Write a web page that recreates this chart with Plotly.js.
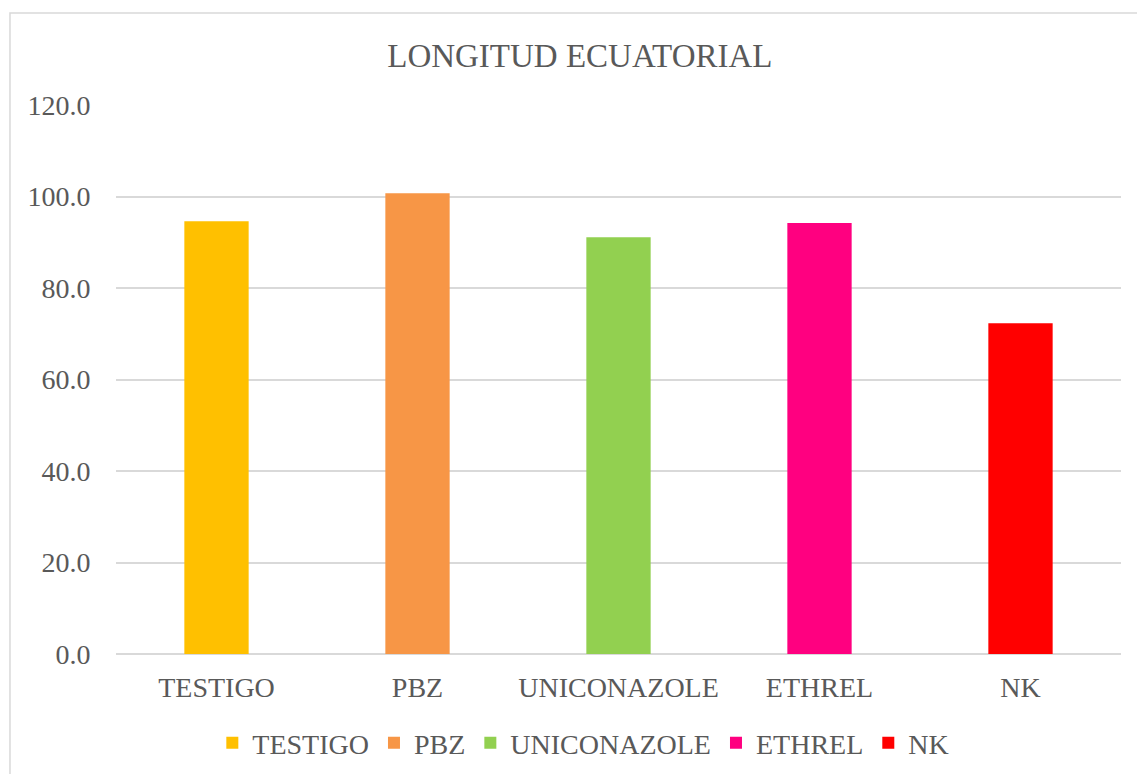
<!DOCTYPE html>
<html>
<head>
<meta charset="utf-8">
<script src="https://cdn.plot.ly/plotly-3.0.1.min.js"></script>
<style>
html,body{margin:0;padding:0;background:#fff;}
#chart{width:1137px;height:774px;}
</style>
</head>
<body>
<div id="chart"></div>
<script>
var categories = ["TESTIGO", "PBZ", "UNICONAZOLE", "ETHREL", "NK"];
var values = [94.6, 100.7, 91.1, 94.2, 72.3];
var colors = ["#FFC000", "#F79646", "#92D050", "#FF0080", "#FF0000"];
var yTicks = [0, 20, 40, 60, 80, 100, 120];
var yTickLabels = ["0.0", "20.0", "40.0", "60.0", "80.0", "100.0", "120.0"];
var chartTitle = "LONGITUD ECUATORIAL";

var textColor = "#595959";
var fontFam = "Liberation Serif";

var traces = categories.map(function (c, i) {
  return {
    type: "bar",
    name: c,
    x: [c],
    y: [values[i]],
    marker: {color: colors[i]},
    hoverinfo: "x+y"
  };
});

var layout = {
  width: 1137,
  height: 774,
  margin: {l: 116, r: 16, t: 105, b: 120, autoexpand: false},
  paper_bgcolor: "#ffffff",
  plot_bgcolor: "#ffffff",
  barmode: "overlay",
  bargap: 0.68,
  font: {family: fontFam, size: 28, color: textColor},
  title: {
    text: chartTitle,
    font: {family: fontFam, size: 33, color: textColor},
    xref: "container", x: 0.51, xanchor: "center",
    yref: "container", y: 0.929, yanchor: "middle"
  },
  xaxis: {
    type: "category",
    categoryorder: "array",
    categoryarray: categories,
    showgrid: false,
    showline: false,
    zeroline: false,
    ticks: "outside",
    ticklen: 8,
    tickcolor: "rgba(0,0,0,0)",
    tickfont: {family: fontFam, size: 28, color: textColor}
  },
  yaxis: {
    range: [0, 120],
    tickvals: yTicks,
    ticktext: yTickLabels,
    showgrid: true,
    gridcolor: "#d9d9d9",
    gridwidth: 2,
    zeroline: true,
    zerolinecolor: "#d9d9d9",
    zerolinewidth: 2,
    showline: false,
    ticks: "outside",
    ticklen: 19,
    tickcolor: "rgba(0,0,0,0)",
    tickfont: {family: fontFam, size: 28, color: textColor}
  },
  showlegend: true,
  legend: {
    orientation: "h",
    x: 0.465, xanchor: "center",
    y: -0.162, yanchor: "middle",
    font: {family: fontFam, size: 28, color: textColor},
    itemclick: false,
    itemdoubleclick: false
  },
  shapes: [{
    type: "rect",
    xref: "paper", yref: "paper",
    x0: -0.1055, x1: 1.2, y0: -0.5, y1: 1.1676,
    line: {color: "#d9d9d9", width: 1.5},
    fillcolor: "rgba(0,0,0,0)",
    layer: "below"
  }]
};

Plotly.newPlot("chart", traces, layout, {displayModeBar: false});
</script>
</body>
</html>
